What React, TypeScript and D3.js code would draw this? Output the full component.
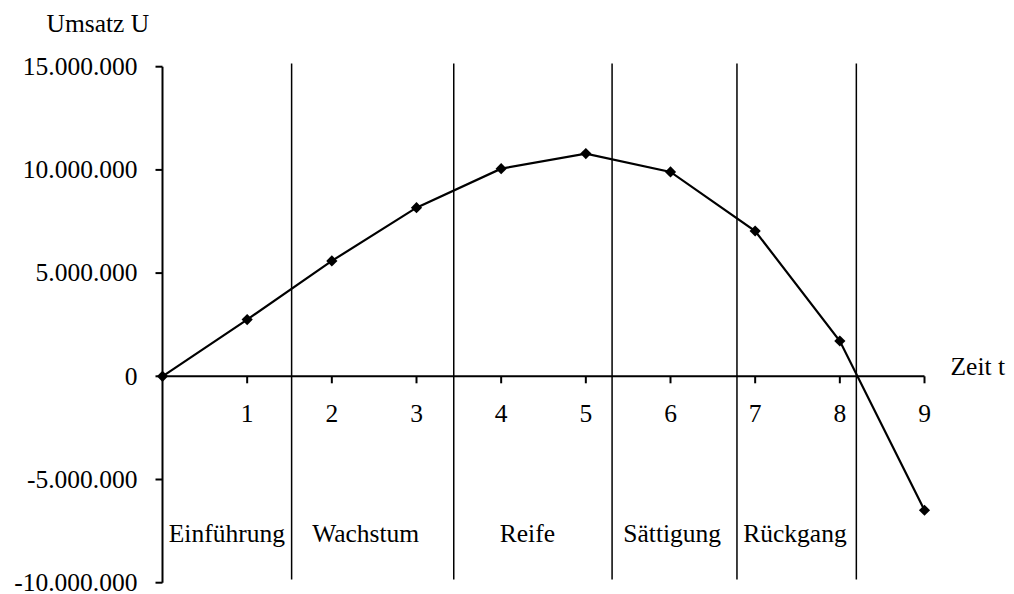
import React from "react";
import * as d3 from "d3";

// Umsatz über die Zeit im Produktlebenszyklus
const zeit: number[] = [0, 1, 2, 3, 4, 5, 6, 7, 8, 9];
const umsatz: number[] = [
  0, 2750000, 5590000, 8170000, 10060000, 10790000, 9900000, 7040000, 1710000, -6490000,
];

const yTicks: number[] = [-10000000, -5000000, 0, 5000000, 10000000, 15000000];
const xTicks: number[] = [1, 2, 3, 4, 5, 6, 7, 8, 9];

// Phasengrenzen (in Zeiteinheiten)
const phasenGrenzen: number[] = [1.525, 3.44, 5.31, 6.785, 8.195];
const phasenNamen: string[] = ["Einführung", "Wachstum", "Reife", "Sättigung", "Rückgang"];
const phasenLabelX: number[] = [0.76, 2.4, 4.31, 6.02, 7.47];

const W = 1014;
const H = 594;
const FONT = "'Liberation Serif', 'Times New Roman', serif";
const FS = 25.5;

const de = d3.formatLocale({
  decimal: ",",
  thousands: ".",
  grouping: [3],
  currency: ["", " €"],
  minus: "-",
});
const fmt = de.format(",.0f");

export default function App() {
  const x = d3.scaleLinear().domain([0, 9]).range([162.5, 924.5]);
  const y = d3.scaleLinear().domain([-10000000, 15000000]).range([582.7, 66.7]);

  const line = d3
    .line<number>()
    .x((_, i) => x(zeit[i]))
    .y((d) => y(d));

  const diamond = d3.symbol().type(d3.symbolDiamond2).size(80)() as string;

  const lineTop = y(15150000);
  const lineBottom = y(-9850000);
  const phaseBaseline = 541.5;

  return (
    <svg
      width={W}
      height={H}
      style={{ position: "absolute", left: 0, top: 0, background: "#fff" }}
      fontFamily={FONT}
      fontSize={FS}
    >
      <rect width={W} height={H} fill="#fff" />

      {/* Phasengrenzen */}
      {phasenGrenzen.map((g, i) => (
        <line
          key={`g${i}`}
          x1={x(g)}
          x2={x(g)}
          y1={lineTop}
          y2={lineBottom}
          stroke="#000"
          strokeWidth={1.5}
        />
      ))}

      {/* Phasennamen */}
      {phasenNamen.map((n, i) => (
        <text key={`p${i}`} x={x(phasenLabelX[i])} y={phaseBaseline} textAnchor="middle" fill="#000">
          {n}
        </text>
      ))}

      {/* Y-Achse */}
      <line x1={x(0)} x2={x(0)} y1={y(15000000)} y2={y(-10000000)} stroke="#000" strokeWidth={2} />
      {yTicks.map((t) => (
        <g key={`yt${t}`}>
          <line x1={x(0) - 7} x2={x(0)} y1={y(t)} y2={y(t)} stroke="#000" strokeWidth={2} />
          <text x={137.5} y={y(t) + 8.3} textAnchor="end" fill="#000">
            {fmt(t)}
          </text>
        </g>
      ))}

      {/* X-Achse */}
      <line x1={x(0)} x2={x(9)} y1={y(0)} y2={y(0)} stroke="#000" strokeWidth={2} />
      {xTicks.map((t) => (
        <g key={`xt${t}`}>
          <line x1={x(t)} x2={x(t)} y1={y(0)} y2={y(0) + 7} stroke="#000" strokeWidth={2} />
          <text x={x(t)} y={421.5} textAnchor="middle" fill="#000">
            {t}
          </text>
        </g>
      ))}

      {/* Achsentitel */}
      <text x={46.5} y={31.5} fill="#000">
        Umsatz U
      </text>
      <text x={950.5} y={375} fill="#000">
        Zeit t
      </text>

      {/* Umsatzkurve */}
      <path d={line(umsatz) ?? ""} fill="none" stroke="#000" strokeWidth={2.2} />
      {umsatz.map((v, i) => (
        <path key={`m${i}`} d={diamond} transform={`translate(${x(zeit[i])},${y(v)})`} fill="#000" />
      ))}
    </svg>
  );
}
